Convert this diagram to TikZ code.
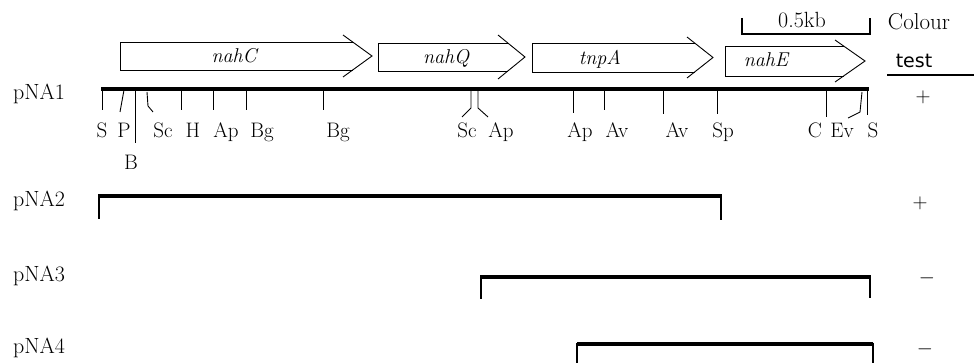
\documentclass[tikz,border=0pt]{standalone}
\usepackage{fontspec}
\newfontfamily\labsans{DejaVu Sans}
\begin{document}
\begin{tikzpicture}[x=1pt,y=-1pt,
  mapline/.style={line width=3.4pt},
  tick/.style={line width=0.9pt},
  genebox/.style={line width=0.9pt, line join=miter},
  sitelab/.style={anchor=base, inner sep=0pt, font=\fontsize{21}{24}\selectfont},
  plasmid/.style={anchor=base west, inner sep=0pt, font=\fontsize{22}{26}\selectfont},
  genelab/.style={anchor=base, inner sep=0pt, font=\fontsize{20}{24}\selectfont\itshape},
  result/.style={anchor=center, inner sep=0pt, font=\fontsize{22}{24}\selectfont}]
\useasboundingbox (0,0) rectangle (974,363);

% open-headed gene arrows: start x, body top, body bottom, head base x, tip x, flare
\newcommand\genearrow[6]{%
  \pgfmathsetmacro\gmid{(#2+#3)/2}%
  \pgfmathsetmacro\gfl{#6}%
  \pgfmathsetmacro\gcut{#4+(#5-#4)*(\gfl/(\gmid-#2+\gfl))}%
  \draw[genebox] (\gcut,#2) -- (#1,#2) -- (#1,#3) -- (\gcut,#3);
  \draw[genebox] (#4,#2-\gfl) -- (#5,\gmid) -- (#4,#3+\gfl);
}
\genearrow{120}{42}{70}{343}{372}{7}
\genearrow{378}{43}{71}{498}{525}{8}
\genearrow{532}{43}{72}{687}{713}{6}
\genearrow{725}{46}{76}{835}{865}{6}
\node[genelab] (gC) at (234,63) {nahC};
\node[genelab] (gQ) at (446,64) {nahQ};
\node[genelab] (gT) at (600,65) {tnpA};
\node[genelab] (gE) at (766,67) {nahE};

% scale bar
\draw[line width=1.6pt] (742,18) -- (742,34) -- (870,34) -- (870,18);
\node[sitelab, font=\fontsize{22}{24}\selectfont] (kb) at (802,28) {0.5kb};

% colour test column
\node[sitelab, font=\fontsize{23}{26}\selectfont] (colour) at (919,30) {Colour};
\node[sitelab, font=\fontsize{19}{22}\selectfont\labsans] (test) at (914,68) {test};
\draw[line width=1.1pt] (887,75) -- (974,75);

% plasmid names
\node[plasmid] (p1) at (13,100) {pNA1};
\node[plasmid] (p2) at (13,207) {pNA2};
\node[plasmid] (p3) at (13,282) {pNA3};
\node[plasmid] (p4) at (13,353) {pNA4};

% pNA1 restriction map
\coordinate (a1) at (101,89);
\coordinate (b1) at (869,89);
\draw[mapline] (a1) -- (b1);
\foreach \x/\yb/\lab/\lx in {102/110/S/102, 181/110/H/193, 213/110/Ap/226,
    246/110/Bg/262, 323/110/Bg/338, 573/113/Ap/580, 604/110/Av/617,
    663/114/Av/677, 717/114/Sp/723, 826/117/C/815, 867/115/S/873}{
  \draw[tick] (\x,90) -- (\x,\yb);
  \node[sitelab] at (\lx,138) {\lab};
}
\draw[tick] (124,90) -- (120,112);
\node[sitelab] (sP) at (124,138) {P};
\draw[tick] (135,90) -- (135,143);
\node[sitelab] (sB) at (131,170) {B};
\draw[tick] (147,92) -- (148,106) -- (153,112);
\node[sitelab] (sSc) at (163,138) {Sc};
\draw[tick] (471,90) -- (471,108) -- (462,117);
\draw[tick] (478,90) -- (478,108) -- (488,117);
\node[sitelab] (sSc2) at (467,138) {Sc};
\node[sitelab] (sAp2) at (501,138) {Ap};
\draw[tick] (862,92) -- (860,112) -- (848,118);
\node[sitelab] (sEv) at (842,138) {Ev};

% subclones: thick insert with thin end marks
\foreach \xa/\xb/\yy/\ya/\yb in {99/721/196/219/220, 481/870/277/299/298, 577/873/344/363/363}{
  \draw[mapline] (\xa,\yy) -- (\xb,\yy);
  \draw[line width=1.3pt] (\xa,\yy-1.5) -- (\xa,\ya);
  \draw[line width=1.3pt] (\xb,\yy-1.5) -- (\xb,\yb);
}

% colour test results
\node[result] (r1) at (923,97) {$+$};
\node[result] (r2) at (920,203) {$+$};
\node[result] (r3) at (927,278) {$-$};
\node[result] (r4) at (925,349) {$-$};
\end{tikzpicture}
\end{document}
